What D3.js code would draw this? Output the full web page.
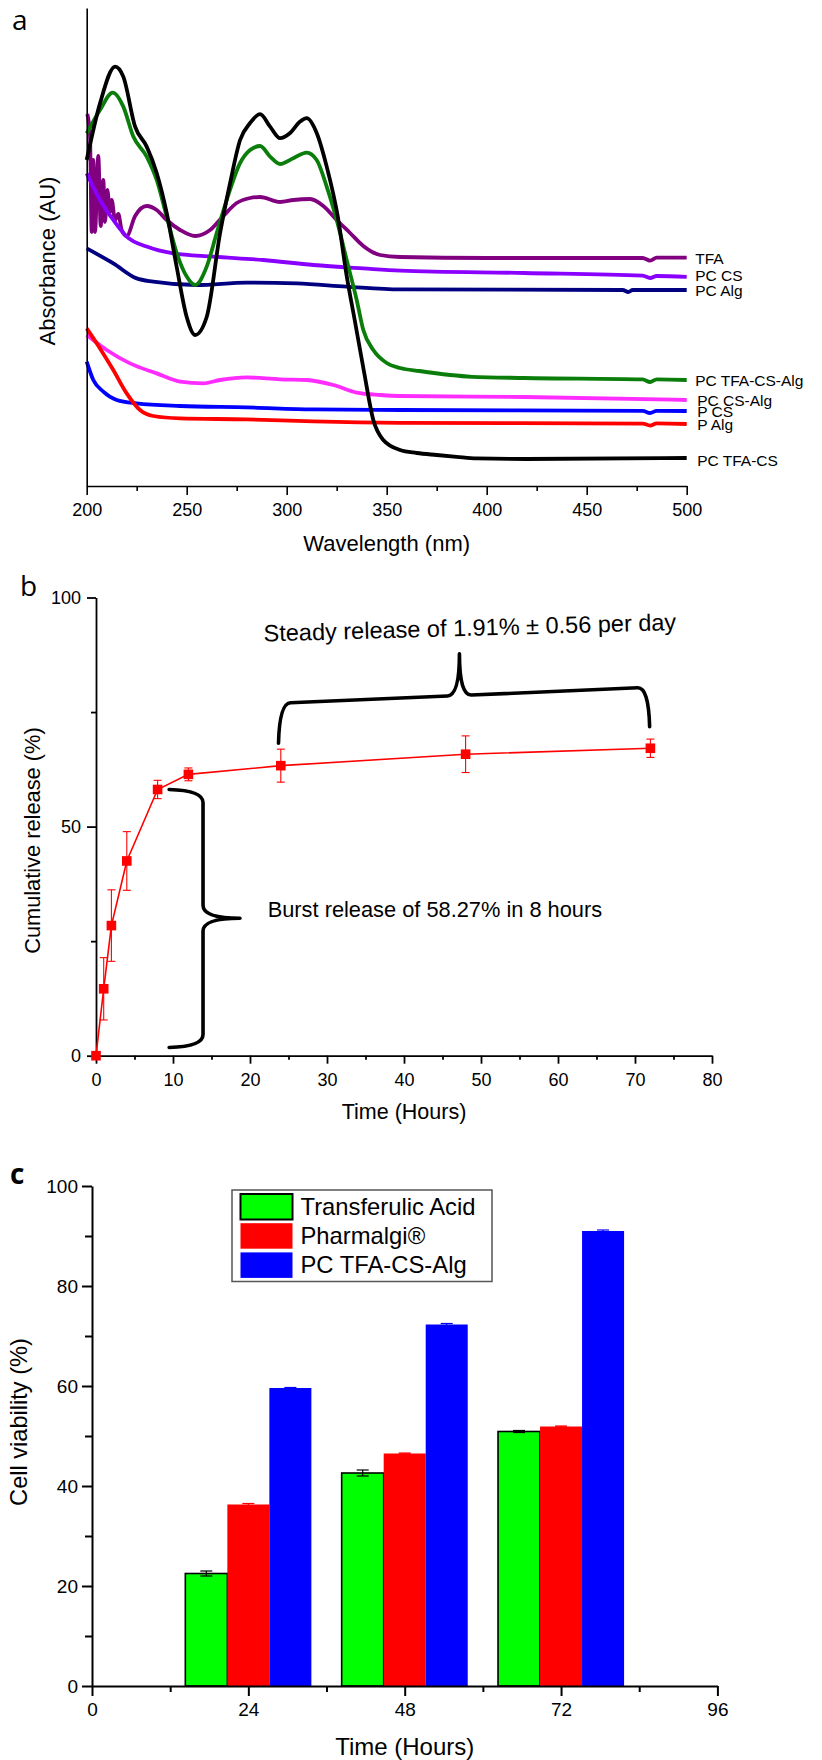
<!DOCTYPE html>
<html><head><meta charset="utf-8">
<script src="https://cdn.jsdelivr.net/npm/d3@7"></script>
<style>
body{margin:0;background:#fff}
svg{display:block}
</style>
</head><body>
<svg id="chart" width="822" height="1760"></svg>
<script>
// ================= DATA =================
// Panel a: UV-Vis spectra [wavelength nm, absorbance AU (arbitrary)]
const spectrumNames = ["TFA","PC CS","PC Alg","PC TFA-CS-Alg","PC CS-Alg","P CS","P Alg","PC TFA-CS"];
const specTFA = [[200.3,1.86],[201.65,1.75],[202.5,1.27],[203.3,1.63],[204.15,1.27],[205.8,1.65],[207,1.30],[208.3,1.53],[209.15,1.32],[210.3,1.48],[211.65,1.37],[212.5,1.43],[214.15,1.33],[215.8,1.36],[217.5,1.28],[220,1.25],[224.2,1.35],[230,1.40],[235,1.38],[240,1.33],[246.7,1.28],[254.2,1.25],[261.7,1.28],[268.3,1.35],[275,1.415],[281.7,1.44],[286.7,1.445],[296.7,1.42],[303.3,1.43],[311.7,1.435],[318.3,1.40],[325,1.33],[331.7,1.265],[338.3,1.20],[346.7,1.155],[356.7,1.145],[400,1.14],[450,1.14],[478,1.14],[481.7,1.127],[485,1.142],[500,1.142]];
const specPCCS = [[200,1.563],[206.65,1.43],[213.3,1.33],[220,1.247],[230,1.197],[243.3,1.163],[263.3,1.147],[288.3,1.13],[313.3,1.105],[338.3,1.088],[356.7,1.077],[418.8,1.065],[478,1.052],[481.7,1.04],[485,1.05],[500,1.046]];
const specPCAlg = [[200,1.188],[213.3,1.113],[225,1.038],[233.3,1.022],[255,1.005],[280,1.017],[305,1.013],[330,0.997],[356.7,0.983],[468,0.98],[470.8,0.97],[473,0.98],[500,0.98]];
const specPCTFACSAlg = [[200,1.763],[206.65,1.88],[213,1.967],[218.3,1.897],[223.3,1.747],[230,1.647],[235,1.53],[240,1.347],[245,1.165],[250,1.047],[254.2,1.005],[260,1.097],[265,1.265],[270,1.43],[276.7,1.615],[281.7,1.68],[286.7,1.70],[291.7,1.647],[296.7,1.61],[303.3,1.639],[310,1.667],[315,1.63],[320,1.497],[325,1.33],[330,1.13],[335,0.93],[338.3,0.78],[343.3,0.68],[350,0.615],[356.7,0.59],[366.4,0.575],[392.7,0.546],[418.8,0.54],[478,0.533],[481.7,0.52],[485,0.533],[500,0.53]];
const specPCCSAlg = [[200,0.755],[210,0.68],[221.65,0.613],[235,0.563],[246.65,0.522],[258.3,0.513],[266.65,0.53],[280,0.543],[296.65,0.533],[310,0.53],[323.3,0.505],[335,0.467],[346.65,0.455],[356.65,0.45],[418.8,0.445],[500,0.43]];
const specPCS = [[200,0.622],[203.3,0.53],[208.3,0.472],[215,0.43],[225,0.413],[246.65,0.40],[280,0.393],[313.3,0.383],[356.65,0.38],[478,0.376],[481.7,0.365],[485,0.376],[500,0.375]];
const specPAlg = [[200,0.788],[206.65,0.688],[213.3,0.58],[220,0.463],[226.65,0.38],[233.3,0.35],[246.65,0.338],[280,0.333],[313.3,0.323],[356.65,0.316],[478,0.312],[481.7,0.302],[485,0.313],[500,0.31]];
const specPCTFACS = [[200,1.63],[206.65,1.913],[214.2,2.097],[218.3,2.047],[224.2,1.797],[230,1.697],[235,1.565],[240,1.365],[245,1.095],[250,0.845],[254.2,0.755],[260,0.845],[266.7,1.265],[271.7,1.515],[276.7,1.73],[281.7,1.815],[286.7,1.859],[291.7,1.797],[296.7,1.739],[301.7,1.765],[306.7,1.822],[310,1.839],[315,1.765],[320,1.597],[325.5,1.35],[330,1.05],[334,0.83],[338.5,0.58],[343.3,0.33],[348.3,0.23],[356.7,0.18],[365,0.165],[375,0.155],[385,0.146],[395,0.138],[420,0.135],[500,0.14]];
const wavelengthTicks = [200,250,300,350,400,450,500];

// Panel b: cumulative release
const releaseTime = [0,1,2,4,8,12,24,48,72];
const releaseMean = [0,14.6,28.4,42.5,58.1,61.4,63.3,65.8,67.1];
const releaseErr  = [0,6.8,7.8,6.4,2.0,1.4,3.6,4.0,2.0];
const releaseXTicks = [0,10,20,30,40,50,60,70,80];
const releaseYTicks = [0,50,100];

// Panel c: cell viability
const viabilityTimes = [24,48,72];
const viabilitySeries = ["Transferulic Acid","Pharmalgi®","PC TFA-CS-Alg"];
const viabilityTFA = [22.5,42.6,50.9];
const viabilityPharmalgi = [36.3,46.5,51.9];
const viabilityPC = [59.6,72.3,91.0];
const viabilityErrTFA = [0.5,0.6,0.2];
const viabilityErrPharmalgi = [0.2,0.1,0.1];
const viabilityErrPC = [0.1,0.2,0.2];
const viabilityXTicks = [0,24,48,72,96];
const viabilityYTicks = [0,20,40,60,80,100];

// ================= STYLE =================
const FONT = '"Liberation Sans", Arial, Helvetica, sans-serif';
const spectrumColors = ["#800080","#8a00ff","#000080","#0b7d0b","#ff2cff","#0000ff","#ff0000","#000000"];
const labelNudge = [6.7,4.2,5.7,5.7,5.7,5.7,6.0,8.0]; // px below line end
const labelShift = [0,0,0,0,2,2,2,2];                 // px right
const barColors = ["#00ff00","#ff0000","#0000ff"];

const svg = d3.select("#chart");
svg.append("rect").attr("width",822).attr("height",1760).attr("fill","#fff");

function styleAxis(g, sw, fs){
  g.attr("font-family", FONT).attr("font-size", fs);
  g.select(".domain").attr("stroke","#000").attr("stroke-width",sw);
  g.selectAll(".tick line").attr("stroke","#000").attr("stroke-width",sw);
  g.selectAll(".tick text").attr("fill","#000");
  return g;
}
function minorAxis(g, axis, sw){
  g.call(axis.tickFormat(""));
  g.select(".domain").remove();
  g.selectAll(".tick line").attr("stroke","#000").attr("stroke-width",sw);
}
function panelLabel(txt, x, y, weight){
  svg.append("text").attr("x",x).attr("y",y).text(txt)
    .attr("font-family",'"Open Sans", "DejaVu Sans", sans-serif')
    .attr("font-size",28).attr("font-weight",weight).attr("fill","#000");
}

// ================= PANEL A =================
(function(){
  const xA = d3.scaleLinear().domain([200,500]).range([86.7,686.7]);
  const yA = d3.scaleLinear().domain([0,2.39]).range([486,8]);
  const spectra = [specTFA,specPCCS,specPCAlg,specPCTFACSAlg,specPCCSAlg,specPCS,specPAlg,specPCTFACS];
  const line = d3.line().x(d=>xA(d[0])).y(d=>yA(d[1])).curve(d3.curveMonotoneX);

  const order = [0,1,2,4,5,6,3,7]; // draw order
  order.forEach(i=>{
    svg.append("path").attr("d",line(spectra[i])).attr("fill","none")
      .attr("stroke",spectrumColors[i]).attr("stroke-width",3.8)
      .attr("stroke-linejoin","round").attr("stroke-linecap","butt");
  });

  // axes
  const gx = svg.append("g").attr("transform",`translate(0,${yA(0)})`)
    .call(d3.axisBottom(xA).tickValues(wavelengthTicks).tickSize(9).tickSizeOuter(0).tickPadding(8));
  styleAxis(gx,1.6,18);
  const gxm = svg.append("g").attr("transform",`translate(0,${yA(0)})`);
  minorAxis(gxm, d3.axisBottom(xA).tickValues([225,275,325,375,425,475]).tickSize(5), 1.6);
  const gy = svg.append("g").attr("transform",`translate(${xA(200)},0)`)
    .call(d3.axisLeft(yA).tickValues([]).tickSizeOuter(0));
  styleAxis(gy,1.6,18);

  // series labels
  svg.append("clipPath").attr("id","clipA").append("rect").attr("x",0).attr("y",0).attr("width",804).attr("height",560);
  const lg = svg.append("g").attr("clip-path","url(#clipA)");
  spectra.forEach((s,i)=>{
    const last = s[s.length-1];
    lg.append("text").attr("x",xA(500)+8.5+labelShift[i]).attr("y",yA(last[1])+labelNudge[i])
      .attr("font-family",FONT).attr("font-size",15.5).attr("fill","#000").text(spectrumNames[i]);
  });

  svg.append("text").attr("x",(xA(200)+xA(500))/2).attr("y",551).attr("text-anchor","middle")
    .attr("font-family",FONT).attr("font-size",22).text("Wavelength (nm)");
  svg.append("text").attr("transform",`translate(55,${(yA(0)+yA(2.39))/2+14}) rotate(-90)`).attr("text-anchor","middle")
    .attr("font-family",FONT).attr("font-size",22).text("Absorbance (AU)");
  panelLabel("a",12,30,500);
})();

// ================= PANEL B =================
(function(){
  const xB = d3.scaleLinear().domain([0,80]).range([96,712]);
  const yB = d3.scaleLinear().domain([0,100]).range([1055.7,597.5]);
  const data = releaseTime.map((t,i)=>({t, m:releaseMean[i], e:releaseErr[i]}));

  const gx = svg.append("g").attr("transform",`translate(0,${yB(0)})`)
    .call(d3.axisBottom(xB).tickValues(releaseXTicks).tickSize(8).tickSizeOuter(0).tickPadding(10));
  styleAxis(gx,1.8,18);
  minorAxis(svg.append("g").attr("transform",`translate(0,${yB(0)})`), d3.axisBottom(xB).tickValues(d3.range(5,80,10)).tickSize(4), 1.8);
  const gy = svg.append("g").attr("transform",`translate(${xB(0)},0)`)
    .call(d3.axisLeft(yB).tickValues(releaseYTicks).tickSize(9).tickSizeOuter(0).tickPadding(6));
  styleAxis(gy,1.8,18);
  minorAxis(svg.append("g").attr("transform",`translate(${xB(0)},0)`), d3.axisLeft(yB).tickValues([25,75]).tickSize(5), 1.8);

  // line
  svg.append("path").attr("d", d3.line().x(d=>xB(d.t)).y(d=>yB(d.m))(data))
    .attr("fill","none").attr("stroke","#ff0000").attr("stroke-width",1.6);
  // error bars
  const eb = svg.append("g").attr("stroke","#ff0000").attr("stroke-width",1.1);
  data.filter(d=>d.e>0).forEach(d=>{
    const x = xB(d.t);
    eb.append("line").attr("x1",x).attr("x2",x).attr("y1",yB(d.m-d.e)).attr("y2",yB(d.m+d.e));
    eb.append("line").attr("x1",x-4).attr("x2",x+4).attr("y1",yB(d.m-d.e)).attr("y2",yB(d.m-d.e));
    eb.append("line").attr("x1",x-4).attr("x2",x+4).attr("y1",yB(d.m+d.e)).attr("y2",yB(d.m+d.e));
  });
  // markers
  svg.append("g").selectAll("rect").data(data).join("rect")
    .attr("x",d=>xB(d.t)-4.8).attr("y",d=>yB(d.m)-4.8).attr("width",9.6).attr("height",9.6)
    .attr("fill","#ff0000");

  // burst brace (vertical, pointing right)
  const bx0 = xB(9.5), bx1 = xB(13.9), bx2 = xB(18.7);
  const bT = yB(58.1), bM = yB(30), bB = yB(1.8), r = 13;
  const bp = d3.path();
  bp.moveTo(bx0,bT);
  bp.quadraticCurveTo(bx1,bT+1,bx1,bT+r);
  bp.lineTo(bx1,bM-r);
  bp.quadraticCurveTo(bx1,bM,bx2,bM);
  bp.quadraticCurveTo(bx1,bM,bx1,bM+r);
  bp.lineTo(bx1,bB-r);
  bp.quadraticCurveTo(bx1,bB-1,bx0,bB);
  svg.append("path").attr("d",bp.toString()).attr("fill","none").attr("stroke","#000")
    .attr("stroke-width",3.6).attr("stroke-linecap","round").attr("stroke-linejoin","round");

  // steady brace (horizontal, tilted, pointing up)
  const L = [xB(23.7), yB(68.2)], R = [xB(71.9), yB(71.8)];
  const LS = yB(76.9), RS = yB(80.4), P = [xB(47.2), yB(87.7)];
  const spineAt = x => LS + (RS-LS)*(x-L[0])/(R[0]-L[0]);
  const PS = spineAt(P[0]);
  const hp = d3.path();
  const rr = 12;
  hp.moveTo(L[0],L[1]);
  hp.quadraticCurveTo(L[0]+1,LS,L[0]+rr,spineAt(L[0]+rr));
  hp.lineTo(P[0]-rr,spineAt(P[0]-rr));
  hp.quadraticCurveTo(P[0],PS,P[0],P[1]);
  hp.quadraticCurveTo(P[0],PS,P[0]+rr,spineAt(P[0]+rr));
  hp.lineTo(R[0]-rr,spineAt(R[0]-rr));
  hp.quadraticCurveTo(R[0]-1,RS,R[0],R[1]);
  svg.append("path").attr("d",hp.toString()).attr("fill","none").attr("stroke","#000")
    .attr("stroke-width",3.6).attr("stroke-linecap","round").attr("stroke-linejoin","round");

  svg.append("text").attr("transform",`translate(${xB(21.8)},${yB(90.4)}) rotate(-1.6)`)
    .attr("font-family",FONT).attr("font-size",23.5).text("Steady release of 1.91% ± 0.56 per day");
  svg.append("text").attr("x",xB(22.3)).attr("y",yB(30.2))
    .attr("font-family",FONT).attr("font-size",21.8).text("Burst release of 58.27% in 8 hours");

  svg.append("text").attr("x",(xB(0)+xB(80))/2).attr("y",1119).attr("text-anchor","middle")
    .attr("font-family",FONT).attr("font-size",21.5).text("Time (Hours)");
  svg.append("text").attr("transform",`translate(40,${(yB(0)+yB(100))/2+14}) rotate(-90)`).attr("text-anchor","middle")
    .attr("font-family",FONT).attr("font-size",21.8).text("Cumulative release (%)");
  panelLabel("b",20,596,500);
})();

// ================= PANEL C =================
(function(){
  const xC = d3.scaleLinear().domain([0,96]).range([92,717.4]);
  const yC = d3.scaleLinear().domain([0,100]).range([1686,1186]);
  const vals = [viabilityTFA, viabilityPharmalgi, viabilityPC];
  const errs = [viabilityErrTFA, viabilityErrPharmalgi, viabilityErrPC];
  const bw = 6.45; // hours per bar
  const errColors = ["#000","#ff0000","#0000ff"];

  vals.forEach((arr,si)=>{
    const g = svg.append("g");
    arr.forEach((v,i)=>{
      const t = viabilityTimes[i];
      const x0 = xC(t + (si-1.5)*bw), x1 = xC(t + (si-0.5)*bw);
      g.append("rect").attr("x",x0).attr("y",yC(v)).attr("width",x1-x0).attr("height",yC(0)-yC(v))
        .attr("fill",barColors[si])
        .attr("stroke", si===0 ? "#000" : "none").attr("stroke-width", si===0 ? 1.6 : 0);
    });
  });
  // error bars
  vals.forEach((arr,si)=>{
    arr.forEach((v,i)=>{
      const t = viabilityTimes[i];
      const xc = xC(t + (si-1)*bw);
      const e = errs[si][i];
      const g = svg.append("g").attr("stroke",errColors[si]).attr("stroke-width",1.2);
      g.append("line").attr("x1",xc).attr("x2",xc).attr("y1",yC(v-e)).attr("y2",yC(v+e));
      g.append("line").attr("x1",xc-6).attr("x2",xc+6).attr("y1",yC(v+e)).attr("y2",yC(v+e));
      g.append("line").attr("x1",xc-6).attr("x2",xc+6).attr("y1",yC(v-e)).attr("y2",yC(v-e));
    });
  });

  const gx = svg.append("g").attr("transform",`translate(0,${yC(0)})`)
    .call(d3.axisBottom(xC).tickValues(viabilityXTicks).tickSize(10).tickSizeOuter(0).tickPadding(7));
  styleAxis(gx,2,19);
  minorAxis(svg.append("g").attr("transform",`translate(0,${yC(0)})`), d3.axisBottom(xC).tickValues([12,36,60,84]).tickSize(6), 2);
  const gy = svg.append("g").attr("transform",`translate(${xC(0)},0)`)
    .call(d3.axisLeft(yC).tickValues(viabilityYTicks).tickSize(10).tickSizeOuter(0).tickPadding(4));
  styleAxis(gy,2,19);
  minorAxis(svg.append("g").attr("transform",`translate(${xC(0)},0)`), d3.axisLeft(yC).tickValues([10,30,50,70,90]).tickSize(7), 2);

  // legend
  const lg = svg.append("g").attr("transform","translate(232,1190)");
  lg.append("rect").attr("x",0).attr("y",0).attr("width",260).attr("height",91.5)
    .attr("fill","#fff").attr("stroke","#555").attr("stroke-width",1.5);
  viabilitySeries.forEach((name,i)=>{
    lg.append("rect").attr("x",8.5).attr("y",4+i*29.2).attr("width",52).attr("height",25.5)
      .attr("fill",barColors[i]).attr("stroke", i===0 ? "#000" : "none").attr("stroke-width",2);
    lg.append("text").attr("x",68.5).attr("y",25+i*29.2)
      .attr("font-family",FONT).attr("font-size",23.8).attr("fill","#000").text(name);
  });

  svg.append("text").attr("x",(xC(0)+xC(96))/2).attr("y",1755).attr("text-anchor","middle")
    .attr("font-family",FONT).attr("font-size",24).text("Time (Hours)");
  svg.append("text").attr("transform",`translate(27,${(yC(0)+yC(100))/2-14}) rotate(-90)`).attr("text-anchor","middle")
    .attr("font-family",FONT).attr("font-size",23.6).text("Cell viability (%)");
  panelLabel("c",10,1184,700);
})();
</script>
</body></html>
